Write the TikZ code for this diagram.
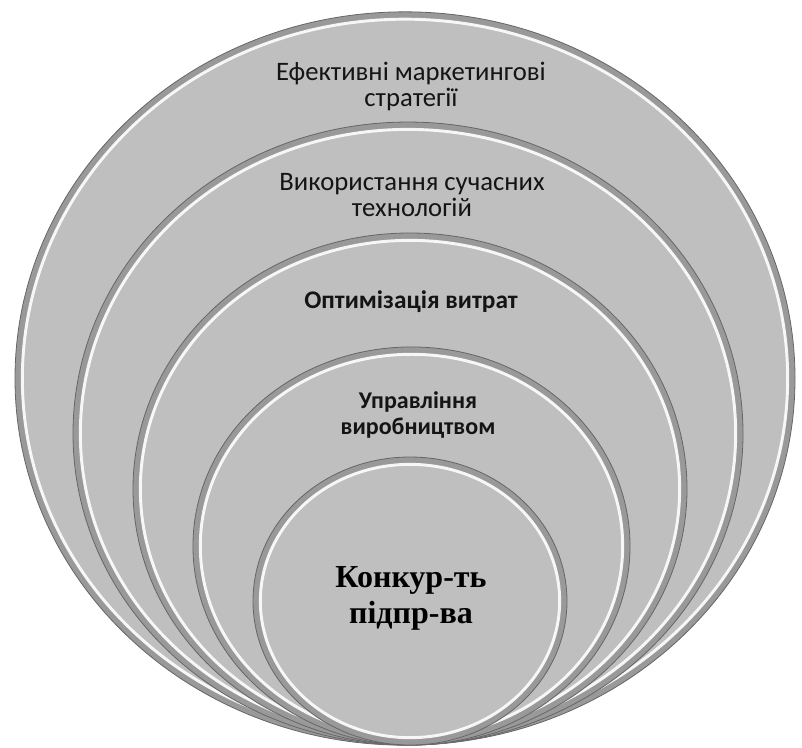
\documentclass[tikz,border=0pt]{standalone}
\usepackage{fontspec}
\setmainfont{Carlito}
\newfontfamily\serifbf{Liberation Serif}[BoldFont={Liberation Serif Bold}]
\begin{document}
\begin{tikzpicture}[x=0.75pt,y=-0.75pt,
  ringband/.style={fill=black!40},
  ringedge/.style={draw=black!60,line width=0.6pt},
  ringface/.style={fill=black!25},
  ringlight/.style={draw=white,line width=2.2pt,opacity=0.9},
  lbl/.style={align=center,font=\fontsize{20}{19.5}\selectfont,text=black!92},
  lblb/.style={align=center,font=\fontsize{18}{19.5}\selectfont\bfseries,text=black!92}]
\useasboundingbox (0,0) rectangle (802,747);
% nested rings, largest first
\foreach \cx/\cy/\rx/\ry in {405/378.5/292.5/275, 408/433.5/251.25/233.6, 410/489/207.75/192, 411.5/546/163.9/149.3, 410/601/117.75/108} {
  \fill[ringband] (\cx,\cy) ellipse [x radius=\rx pt, y radius=\ry pt];
  \draw[ringedge] (\cx,\cy) ellipse [x radius=\rx pt, y radius=\ry pt];
  \fill[ringface] (\cx,\cy) ellipse [x radius={\rx pt-5.5pt}, y radius={\ry pt-5.5pt}];
  \draw[ringlight] (\cx,\cy) ellipse [x radius={\rx pt-5.5pt}, y radius={\ry pt-5.5pt}];
}
\node[lbl] (mkt) at (411,86) {Ефективні маркетингові\\стратегії};
\node[lbl] (tech) at (412,195) {Використання сучасних\\технологій};
\node[lblb,font=\fontsize{19}{20}\selectfont\bfseries] (cost) at (411,302) {Оптимізація витрат};
\node[lblb] (prod) at (418,415) {Управління\\виробництвом};
\node[align=center,font=\serifbf\fontsize{24}{27}\selectfont\bfseries] (core) at (411,598) {Конкур-ть\\підпр-ва};
\end{tikzpicture}
\end{document}
